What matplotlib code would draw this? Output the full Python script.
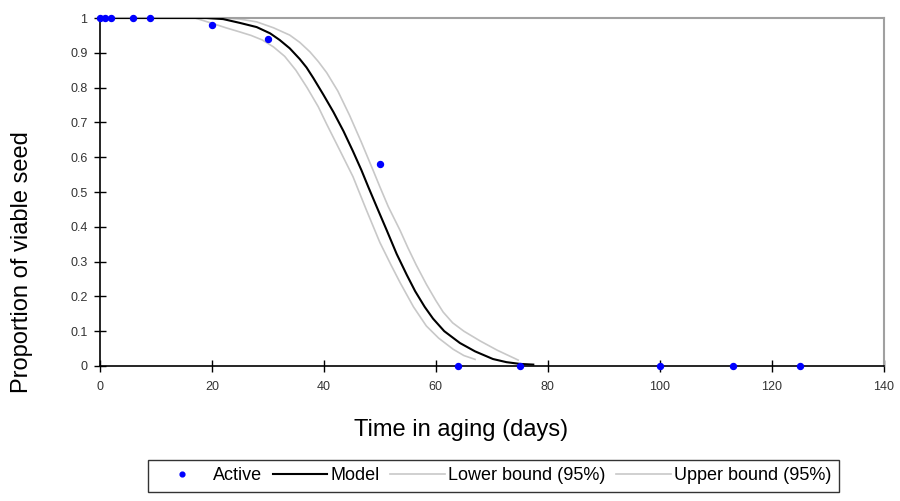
import matplotlib
matplotlib.use("Agg")
import matplotlib.pyplot as plt

plt.rcParams["font.family"] = ["Liberation Sans", "DejaVu Sans"]

# observed proportions
days_obs = [0, 1, 2, 6, 9, 20, 30, 50, 64, 75, 100, 113, 125]
viable_obs = [1, 1, 1, 1, 1, 0.98, 0.94, 0.58, 0, 0, 0, 0, 0]

# fitted model and 95% bounds
model_x = [0, 19, 22, 25, 28, 30.4, 32.1, 33.9, 35.7, 36.9, 38.1, 39.9, 41.7, 43.5, 45.2,
           46.7, 48, 49.5, 51.2, 53, 54.8, 56.3, 58, 59.5, 61.5, 64.3, 67, 70.2, 72.6, 75, 77.4]
model_y = [1, 1, 0.997, 0.986, 0.974, 0.956, 0.937, 0.913, 0.882, 0.858, 0.828, 0.78, 0.73,
           0.675, 0.617, 0.563, 0.512, 0.455, 0.391, 0.322, 0.262, 0.215, 0.17, 0.136, 0.1,
           0.066, 0.042, 0.02, 0.011, 0.006, 0.004]

lower_x = [0, 17, 20, 22.5, 25, 27, 29, 31, 33, 35, 37, 39, 40.5, 43, 45.2, 47.5, 50, 52,
           53.6, 56, 58.3, 60.5, 63.1, 65, 67]
lower_y = [1, 1, 0.985, 0.972, 0.96, 0.95, 0.937, 0.917, 0.89, 0.85, 0.80, 0.745, 0.695, 0.615,
           0.544, 0.452, 0.355, 0.29, 0.24, 0.17, 0.115, 0.08, 0.048, 0.03, 0.019]

upper_x = [0, 22, 25, 28, 31, 33.9, 35.7, 37.5, 39, 40.5, 42.5, 44.6, 46.7, 48.8, 50, 51.5,
           53.6, 55, 56.5, 58.3, 60, 61.3, 63, 65, 67.9, 71, 74.7]
upper_y = [1, 1, 0.997, 0.989, 0.972, 0.951, 0.93, 0.903, 0.875, 0.843, 0.79, 0.72, 0.643,
           0.562, 0.515, 0.458, 0.39, 0.34, 0.29, 0.235, 0.188, 0.155, 0.124, 0.1, 0.072, 0.045,
           0.017]

xticks = [0, 20, 40, 60, 80, 100, 120, 140]
yticks = [0, 0.1, 0.2, 0.3, 0.4, 0.5, 0.6, 0.7, 0.8, 0.9, 1]
ytick_labels = ["0", "0.1", "0.2", "0.3", "0.4", "0.5", "0.6", "0.7", "0.8", "0.9", "1"]

fig = plt.figure(figsize=(9, 5.01), dpi=100)
ax = fig.add_axes([0.111, 0.2695, 0.871, 0.6945])

bound_color = "#c8c8c8"
l_lower, = ax.plot(lower_x, lower_y, color=bound_color, lw=1.2, label="Lower bound (95%)", zorder=2)
l_upper, = ax.plot(upper_x, upper_y, color=bound_color, lw=1.2, label="Upper bound (95%)", zorder=2)
l_model, = ax.plot(model_x, model_y, color="black", lw=1.5, label="Model", zorder=3)
l_obs, = ax.plot(days_obs, viable_obs, ls="none", marker="o", ms=4.3, color="#0000ff",
                 label="Active", zorder=4, clip_on=False)

ax.set_xlim(0, 140)
ax.set_ylim(0, 1)
ax.set_xticks(xticks)
ax.set_yticks(yticks)
ax.set_yticklabels(ytick_labels)
ax.tick_params(direction="inout", length=8, width=1, labelsize=9, colors="black",
               labelcolor="#333333")
ax.tick_params(axis="x", pad=7)
ax.tick_params(axis="y", pad=5)

for side in ["top", "right"]:
    ax.spines[side].set_color("#a0a0a0")
    ax.spines[side].set_linewidth(1.5)
for side in ["left", "bottom"]:
    ax.spines[side].set_color("black")
    ax.spines[side].set_linewidth(1.2)

fig.text(461 / 900, 1 - 430 / 501, "Time in aging (days)", fontsize=17,
         ha="center", va="center")
fig.text(22 / 900, 1 - 262 / 501, "Proportion of viable seed", fontsize=17,
         ha="center", va="center", rotation=90)

leg = fig.legend(handles=[l_obs, l_model, l_lower, l_upper], loc="center",
                 bbox_to_anchor=(0.548, 0.05), ncol=4, fontsize=13, frameon=True,
                 fancybox=False, edgecolor="black", handlelength=3.0, handletextpad=0.2,
                 columnspacing=0.6, borderpad=0.4, markerscale=0.8)
leg.get_frame().set_linewidth(1.0)

fig.savefig("out.png", dpi=100)
